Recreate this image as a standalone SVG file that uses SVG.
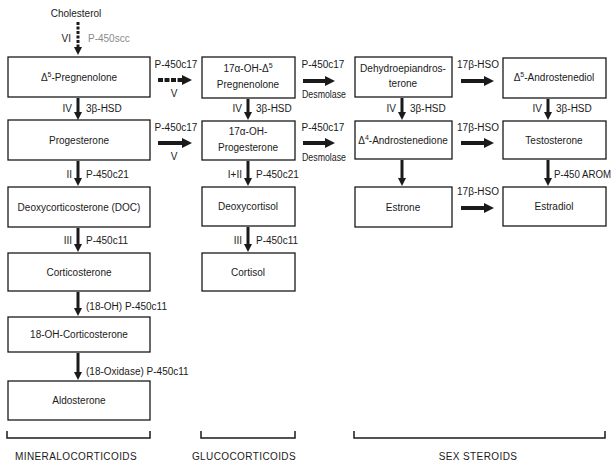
<svg xmlns="http://www.w3.org/2000/svg" width="613" height="465" viewBox="0 0 613 465">
<defs>
<style>
text{font-family:"Liberation Sans","Arial",sans-serif;font-size:10px;fill:#1a1a1a}
.c{text-anchor:middle}
.e{text-anchor:end}
.box{fill:#fff;stroke:#1a1a1a;stroke-width:1.3}
.va{stroke:#1a1a1a;stroke-width:3;fill:none;marker-end:url(#vh)}
.ha{stroke:#1a1a1a;stroke-width:4;fill:none;marker-end:url(#hh)}
.br{stroke:#1a1a1a;stroke-width:1.5;fill:none}
.cap{font-size:10px;letter-spacing:0.4px}
.faint{fill:#8a8a8a}
</style>
<marker id="vh" viewBox="0 0 10 10" refX="0" refY="5" markerWidth="9" markerHeight="8" markerUnits="userSpaceOnUse" orient="auto"><path d="M0,0 L10,5 L0,10 z" fill="#1a1a1a"/></marker>
<marker id="hh" viewBox="0 0 10 10" refX="0" refY="5" markerWidth="10" markerHeight="10" markerUnits="userSpaceOnUse" orient="auto"><path d="M0,0 L10,5 L0,10 z" fill="#1a1a1a"/></marker>
</defs>
<rect width="613" height="465" fill="#fff"/>

<g id="cholesterol"><text class="c" x="76" y="17">Cholesterol</text></g>

<g id="pregnenolone"><rect class="box" x="8" y="57" width="142" height="40"/><text class="c" x="79" y="81">Δ<tspan font-size="7" dy="-4">5</tspan><tspan dy="4">-Pregnenolone</tspan></text></g>
<g id="oh-pregnenolone"><rect class="box" x="202" y="57" width="93" height="41"/><text class="c" x="248" y="72">17α-OH-Δ<tspan font-size="7" dy="-4">5</tspan></text><text class="c" x="248" y="88">Pregnenolone</text></g>
<g id="dhea"><rect class="box" x="355" y="57" width="97" height="40"/><text class="c" x="403" y="72" textLength="86" lengthAdjust="spacingAndGlyphs">Dehydroepiandros-</text><text class="c" x="403" y="87">terone</text></g>
<g id="androstenediol"><rect class="box" x="503" y="58" width="103" height="40"/><text class="c" x="554" y="81">Δ<tspan font-size="7" dy="-4">5</tspan><tspan dy="4">-Androstenediol</tspan></text></g>

<g id="progesterone"><rect class="box" x="8" y="120" width="142" height="40"/><text class="c" x="79" y="144">Progesterone</text></g>
<g id="oh-progesterone"><rect class="box" x="202" y="121" width="93" height="39"/><text class="c" x="248" y="135">17α-OH-</text><text class="c" x="248" y="151">Progesterone</text></g>
<g id="androstenedione"><rect class="box" x="355" y="121" width="97" height="38"/><text class="c" x="403" y="144">Δ<tspan font-size="7" dy="-4">4</tspan><tspan dy="4">-Androstenedione</tspan></text></g>
<g id="testosterone"><rect class="box" x="503" y="121" width="103" height="38"/><text class="c" x="554" y="144">Testosterone</text></g>

<g id="doc"><rect class="box" x="8" y="187" width="142" height="40"/><text class="c" x="79" y="211">Deoxycorticosterone (DOC)</text></g>
<g id="deoxycortisol"><rect class="box" x="202" y="187" width="93" height="39"/><text class="c" x="248" y="210">Deoxycortisol</text></g>
<g id="estrone"><rect class="box" x="355" y="187" width="97" height="40"/><text class="c" x="403" y="211">Estrone</text></g>
<g id="estradiol"><rect class="box" x="503" y="187" width="103" height="39"/><text class="c" x="554" y="210">Estradiol</text></g>

<g id="corticosterone"><rect class="box" x="8" y="253" width="142" height="38"/><text class="c" x="79" y="276">Corticosterone</text></g>
<g id="cortisol"><rect class="box" x="202" y="253" width="93" height="38"/><text class="c" x="248" y="276">Cortisol</text></g>

<g id="oh-corticosterone"><rect class="box" x="8" y="317" width="142" height="35"/><text class="c" x="79" y="338">18-OH-Corticosterone</text></g>
<g id="aldosterone"><rect class="box" x="8" y="381" width="142" height="39"/><text class="c" x="79" y="404">Aldosterone</text></g>

<g id="connectors">
<line class="va" x1="78" y1="22" x2="78" y2="47" stroke-dasharray="3,1.5"/>
<text class="e" x="71" y="42">VI</text><text class="faint" x="88" y="42">P-450scc</text>

<line class="va" x1="78" y1="98" x2="78" y2="112"/>
<text class="e" x="72" y="112">IV</text><text x="86" y="112">3β-HSD</text>
<line class="va" x1="78" y1="161" x2="78" y2="178"/>
<text class="e" x="72" y="178">II</text><text x="86" y="178">P-450c21</text>
<line class="va" x1="78" y1="228" x2="78" y2="244"/>
<text class="e" x="72" y="244">III</text><text x="86" y="244">P-450c11</text>
<line class="va" x1="78" y1="292" x2="78" y2="308"/>
<text x="86" y="310">(18-OH) P-450c11</text>
<line class="va" x1="78" y1="353" x2="78" y2="372"/>
<text x="86" y="375">(18-Oxidase) P-450c11</text>

<line class="va" x1="248" y1="99" x2="248" y2="112"/>
<text class="e" x="242" y="112">IV</text><text x="256" y="112">3β-HSD</text>
<line class="va" x1="248" y1="161" x2="248" y2="178"/>
<text class="e" x="242" y="178">I+II</text><text x="256" y="178">P-450c21</text>
<line class="va" x1="248" y1="227" x2="248" y2="244"/>
<text class="e" x="242" y="244">III</text><text x="256" y="244">P-450c11</text>

<line class="va" x1="402" y1="98" x2="402" y2="112"/>
<text class="e" x="396" y="112">IV</text><text x="410" y="112">3β-HSD</text>
<line class="va" x1="402" y1="160" x2="402" y2="178"/>

<line class="va" x1="548" y1="99" x2="548" y2="112"/>
<text class="e" x="542" y="112">IV</text><text x="556" y="112">3β-HSD</text>
<line class="va" x1="548" y1="160" x2="548" y2="178"/>
<text x="554" y="178" textLength="57" lengthAdjust="spacingAndGlyphs">P-450 AROM</text>

<line class="ha" x1="158" y1="80" x2="182" y2="80" stroke-dasharray="5,1.5"/>
<text class="c" x="176" y="68">P-450c17</text><text class="c" x="174" y="97">V</text>
<line class="ha" x1="158" y1="143" x2="182" y2="143"/>
<text class="c" x="176" y="131">P-450c17</text><text class="c" x="174" y="160">V</text>

<line class="ha" x1="303" y1="81" x2="325" y2="81"/>
<text class="c" x="323" y="68">P-450c17</text><text class="c" x="324" y="98" textLength="44" lengthAdjust="spacingAndGlyphs">Desmolase</text>
<line class="ha" x1="303" y1="143" x2="325" y2="143"/>
<text class="c" x="323" y="131">P-450c17</text><text class="c" x="324" y="161" textLength="44" lengthAdjust="spacingAndGlyphs">Desmolase</text>

<line class="ha" x1="461" y1="81" x2="484" y2="81"/>
<text class="c" x="478" y="68">17β-HSO</text>
<line class="ha" x1="461" y1="143" x2="484" y2="143"/>
<text class="c" x="478" y="131">17β-HSO</text>
<line class="ha" x1="461" y1="208" x2="484" y2="208"/>
<text class="c" x="478" y="195">17β-HSO</text>
</g>

<g id="groups">
<path class="br" d="M7,431 V438 H150 V431"/>
<text class="c cap" x="76" y="460">MINERALOCORTICOIDS</text>
<path class="br" d="M201,431 V438 H295 V431"/>
<text class="c cap" x="244" y="460">GLUCOCORTICOIDS</text>
<path class="br" d="M354,431 V438 H605 V431"/>
<text class="c cap" x="478" y="460">SEX STEROIDS</text>
</g>
</svg>
